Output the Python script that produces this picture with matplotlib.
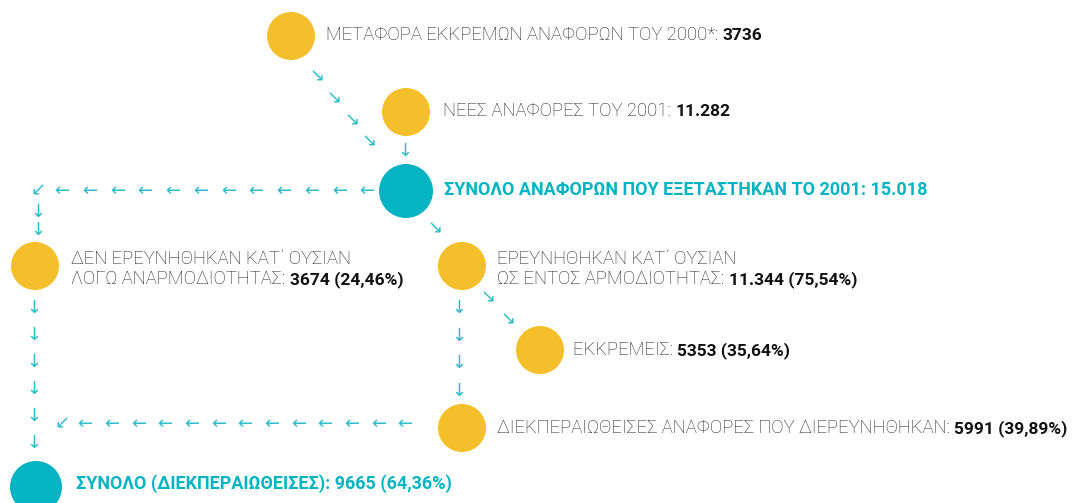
import numpy as np
import matplotlib.pyplot as plt
from matplotlib.patches import Circle

# κείμενα κόμβων (πρώτη γραμμή, δεύτερη γραμμή πριν από την τιμή)
heads = [None, None, None, "ΔΕΝ ΕΡΕΥΝΗΘΗΚΑΝ ΚΑΤ΄ ΟΥΣΙΑΝ", "ΕΡΕΥΝΗΘΗΚΑΝ ΚΑΤ΄ ΟΥΣΙΑΝ",
         None, None, None]
labels = [
    "ΜΕΤΑΦΟΡΑ ΕΚΚΡΕΜΩΝ ΑΝΑΦΟΡΩΝ ΤΟΥ 2000*: ",
    "ΝΕΕΣ ΑΝΑΦΟΡΕΣ ΤΟΥ 2001: ",
    "ΣΥΝΟΛΟ ΑΝΑΦΟΡΩΝ ΠΟΥ ΕΞΕΤΑΣΤΗΚΑΝ ΤΟ 2001: ",
    "ΛΟΓΩ ΑΝΑΡΜΟΔΙΟΤΗΤΑΣ: ",
    "ΩΣ ΕΝΤΟΣ ΑΡΜΟΔΙΟΤΗΤΑΣ: ",
    "ΕΚΚΡΕΜΕΙΣ: ",
    "ΔΙΕΚΠΕΡΑΙΩΘΕΙΣΕΣ ΑΝΑΦΟΡΕΣ ΠΟΥ ΔΙΕΡΕΥΝΗΘΗΚΑΝ: ",
    "ΣΥΝΟΛΟ (ΔΙΕΚΠΕΡΑΙΩΘΕΙΣΕΣ): ",
]
# αριθμός αναφορών
values = [3736, 11282, 15018, 3674, 11344, 5353, 5991, 9665]
# ποσοστό επί του συνόλου
percents = [None, None, None, 24.46, 75.54, 35.64, 39.89, 64.36]
# σύνολα (τιρκουάζ) ή απλοί κόμβοι (κίτρινοι)
is_total = [False, False, True, False, False, False, False, True]

# διάταξη σε pixel (x, y, ακτίνα) και baseline κειμένου
node_pos = [(291, 36, 24), (406, 112, 24), (406, 191, 27), (35, 266, 24),
            (462, 266, 24), (540, 350, 24), (462, 428, 24), (36, 487, 26)]
text_pos = [(326, 40), (443, 116), (444, 195), (71, 284),
            (497, 284), (573, 355), (497, 433), (76, 489)]

YELLOW = '#F4BF2A'
TEAL = '#05B4C2'
ARROW = '#2EBCCB'
GRAY = '#1e1e1e'
FS = 13.3

plt.rcParams['font.family'] = ['Roboto', 'DejaVu Sans']


def fmt_value(v):
    s = str(v)
    if v >= 10000:
        s = f"{v:,}".replace(',', '.')
    return s


def fmt_pct(p):
    return '' if p is None else ' (' + f"{p:.2f}".replace('.', ',') + '%)'


fig = plt.figure(figsize=(10.79, 5.03), dpi=100)
ax = fig.add_axes([0, 0, 1, 1])
ax.set_xlim(0, 1079)
ax.set_ylim(503, 0)
ax.axis('off')
renderer = fig.canvas.get_renderer()

for i in range(len(labels)):
    x, y, r = node_pos[i]
    ax.add_patch(Circle((x, y), r, color=TEAL if is_total[i] else YELLOW, lw=0))
    tx, ty = text_pos[i]
    bold = fmt_value(values[i]) + fmt_pct(percents[i])
    if is_total[i]:
        ax.text(tx, ty, labels[i] + bold, color=TEAL, fontsize=13,
                fontweight='bold', va='baseline', ha='left')
        continue
    if heads[i]:
        ax.text(tx, ty - 20, heads[i], color=GRAY, fontsize=FS,
                fontweight='light', va='baseline', ha='left')
    t = ax.text(tx, ty, labels[i], color=GRAY, fontsize=FS,
                fontweight='light', va='baseline', ha='left')
    x_end = ax.transData.inverted().transform(
        (t.get_window_extent(renderer).x1, 0))[0]
    ax.text(x_end, ty, bold, color='#111111', fontsize=12.5,
            fontweight='bold', va='baseline', ha='left')


# βέλη ροής
def arrow_run(x0, y0, x1, y1, n, glyph):
    for ax_x, ax_y in zip(np.linspace(x0, x1, n), np.linspace(y0, y1, n)):
        ax.text(ax_x, ax_y, glyph, color=ARROW, fontsize=13,
                family='DejaVu Sans', ha='center', va='center')


arrow_run(317, 77, 369, 142, 4, '↘')
arrow_run(405, 151, 405, 151, 1, '↓')
arrow_run(367, 191, 62, 191, 12, '←')
arrow_run(38, 191, 38, 191, 1, '↙')
arrow_run(38, 212, 38, 230, 2, '↓')
arrow_run(435, 229, 435, 229, 1, '↘')
arrow_run(34, 308, 34, 443, 6, '↓')
arrow_run(459, 308, 459, 391, 4, '↓')
arrow_run(488, 298, 508, 320, 2, '↘')
arrow_run(405, 424, 85, 424, 13, '←')
arrow_run(62, 424, 62, 424, 1, '↙')

fig.savefig('out.png', dpi=100)
